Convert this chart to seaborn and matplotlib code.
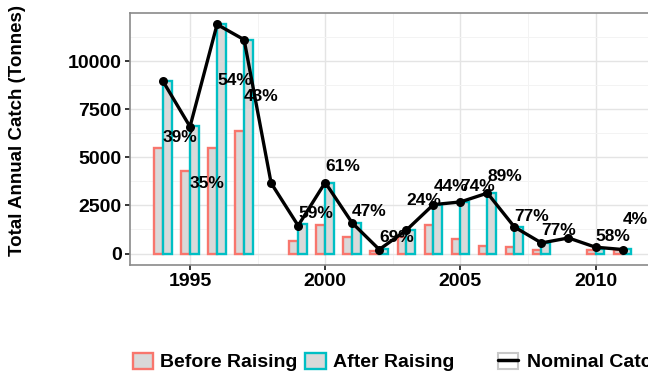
import matplotlib
matplotlib.use("Agg")
import matplotlib.pyplot as plt
import seaborn as sns
import pandas as pd
from matplotlib.patches import Patch
from matplotlib.lines import Line2D
from matplotlib.legend_handler import HandlerTuple
from matplotlib.ticker import MultipleLocator, FixedLocator

# Annual catch estimates (tonnes) before and after raising
bar_years = [1994, 1995, 1996, 1997, 1999, 2000, 2001, 2002, 2003, 2004,
             2005, 2006, 2007, 2008, 2010, 2011]
before_raising = [5500, 4300, 5490, 6380, 670, 1490, 850, 120, 870, 1470,
                  760, 380, 350, 165, 190, 190]
after_raising = [8950, 6640, 11900, 11110, 1540, 3690, 1590, 240, 1240, 2540,
                 2680, 3160, 1380, 540, 243, 243]

# Nominal catch reported each year
nominal_years = list(range(1994, 2012))
nominal_catch = [8950, 6590, 11900, 11110, 3660, 1450, 3690, 1590, 210, 1210,
                 2540, 2680, 3140, 1380, 550, 810, 330, 210]

# Percentage annotations and their heights
pct_years = [1994, 1995, 1996, 1997, 1999, 2000, 2001, 2002, 2003, 2004,
             2005, 2006, 2007, 2008, 2010, 2011]
pct_labels = ["39%", "35%", "54%", "43%", "59%", "61%", "47%", "69%", "24%",
              "44%", "74%", "89%", "77%", "77%", "58%", "4%"]
pct_y = [6020, 3660, 9000, 8180, 2070, 4520, 2190, 850, 2740, 3480,
         3480, 4000, 1930, 1210, 860, 1760]

series_names = ["Before Raising", "After Raising"]
x_ticks = [1995, 2000, 2005, 2010]
y_ticks = [0, 2500, 5000, 7500, 10000]

RED = "#F8766D"
CYAN = "#00BFC4"
BAR_FILL = "#d9d9d9"

sns.set_theme(style="white")
plt.rcParams["font.family"] = ["Liberation Sans", "DejaVu Sans"]
plt.rcParams["font.weight"] = "bold"
plt.rcParams["text.color"] = "black"
plt.rcParams["axes.labelcolor"] = "black"
plt.rcParams["xtick.color"] = "black"
plt.rcParams["ytick.color"] = "black"

n = len(bar_years)
bars = pd.DataFrame({
    "Year": bar_years * 2,
    "Catch": before_raising + after_raising,
    "Series": [series_names[0]] * n + [series_names[1]] * n,
})

W, H = 648, 378
fig = plt.figure(figsize=(W / 100, H / 100), dpi=100)
ax = fig.add_axes([130 / W, 113 / H, 525 / W, 252 / H])

sns.barplot(data=bars, x="Year", y="Catch", hue="Series",
            hue_order=series_names, palette=[RED, CYAN], native_scale=True,
            width=0.65, saturation=1, errorbar=None, legend=False, ax=ax)
for p in ax.patches:
    edge = p.get_facecolor()
    p.set_edgecolor(edge)
    p.set_facecolor(BAR_FILL)
    p.set_linewidth(1.7)
    p.set_zorder(2)

sns.lineplot(x=nominal_years, y=nominal_catch, color="black", linewidth=2.4,
             marker="o", markersize=6.5, markeredgewidth=0, ax=ax, zorder=3)

for yr, lab, yv in zip(pct_years, pct_labels, pct_y):
    ax.text(yr, yv, lab, ha="left", va="center", fontsize=12.5,
            fontweight="bold", color="black", zorder=4)

ax.set_xlim(1992.78, 2012.2)
ax.set_ylim(-595, 12495)
ax.xaxis.set_major_locator(FixedLocator(x_ticks))
ax.yaxis.set_major_locator(FixedLocator(y_ticks))
ax.xaxis.set_minor_locator(MultipleLocator(2.5))
ax.yaxis.set_minor_locator(MultipleLocator(1250))
ax.set_xticklabels([str(t) for t in x_ticks])
ax.set_yticklabels([str(t) for t in y_ticks])

ax.set_axisbelow(True)
ax.grid(which="major", color="#e4e4e4", linewidth=1.0)
ax.grid(which="minor", color="#f3f3f3", linewidth=0.7)
ax.tick_params(which="major", length=3.5, width=1.1, color="black",
               labelsize=14, pad=2.5, labelcolor="black",
               bottom=True, left=True)
ax.tick_params(which="minor", length=0)
for lbl in ax.get_xticklabels() + ax.get_yticklabels():
    lbl.set_fontweight("bold")
for s in ax.spines.values():
    s.set_color("#8a8a8a")
    s.set_linewidth(1.2)
ax.set_xlabel("")
ax.set_ylabel("")

fig.text(18 / W, 1 - 131 / H, "Total Annual Catch (Tonnes)", rotation=90,
         ha="center", va="center", fontsize=13.5, fontweight="bold",
         color="black")

legend_font = {"weight": "bold", "size": 14}
bar_handles = [Patch(facecolor=BAR_FILL, edgecolor=RED, linewidth=1.7),
               Patch(facecolor=BAR_FILL, edgecolor=CYAN, linewidth=1.7)]
leg1 = fig.legend(bar_handles, series_names, loc="center left",
                  bbox_to_anchor=(133 / W, 16 / H), ncol=2, frameon=False,
                  borderpad=0, borderaxespad=0, handlelength=1.05,
                  handleheight=0.9, handletextpad=0.35, columnspacing=0.4,
                  prop=legend_font, labelcolor="black")

line_handle = (Patch(facecolor="white", edgecolor="#c8c8c8", linewidth=1.5),
               Line2D([0], [0], color="black", linewidth=2.5))
fig.legend([line_handle], ["Nominal Catch"], loc="center left",
           bbox_to_anchor=(498 / W, 16 / H), frameon=False, borderpad=0,
           borderaxespad=0, handlelength=1.05, handleheight=0.9,
           handletextpad=0.45, prop=legend_font, labelcolor="black",
           handler_map={tuple: HandlerTuple(ndivide=1)})

fig.savefig("out.png", dpi=100)
